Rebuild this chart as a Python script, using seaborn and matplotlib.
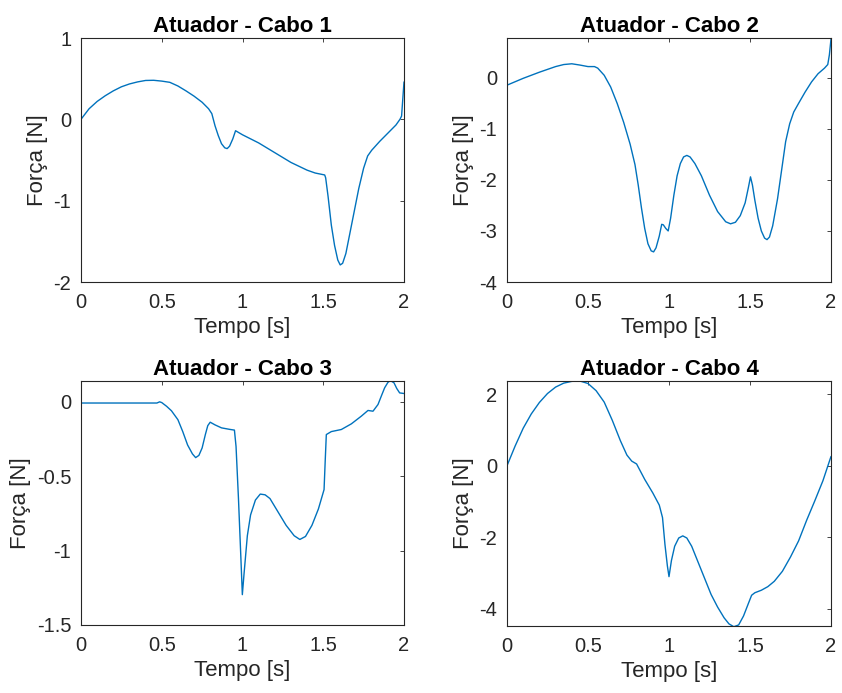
import matplotlib
matplotlib.use("Agg")
import matplotlib.pyplot as plt
import seaborn as sns
import pandas as pd
from matplotlib.ticker import FormatStrFormatter

# Cable actuator forces over time
tempo_1 = [0.0, 0.05, 0.1, 0.15, 0.2, 0.25, 0.3, 0.35, 0.4, 0.45, 0.5, 0.55, 0.6,
           0.65, 0.7, 0.75, 0.79, 0.81, 0.83, 0.85, 0.87, 0.89, 0.905, 0.92, 0.94,
           0.957, 1.0, 1.1, 1.2, 1.3, 1.4, 1.45, 1.509, 1.515, 1.53, 1.55, 1.57,
           1.59, 1.605, 1.62, 1.64, 1.66, 1.69, 1.72, 1.75, 1.775, 1.8, 1.85, 1.9,
           1.95, 1.975, 1.985, 2.0]
forca_1 = [0.0, 0.13, 0.22, 0.29, 0.35, 0.40, 0.435, 0.46, 0.478, 0.48, 0.47, 0.455,
           0.41, 0.35, 0.285, 0.21, 0.13, 0.07, -0.08, -0.2, -0.3, -0.35, -0.36,
           -0.33, -0.24, -0.14, -0.19, -0.29, -0.41, -0.53, -0.625, -0.66, -0.684,
           -0.72, -0.95, -1.3, -1.55, -1.73, -1.79, -1.77, -1.65, -1.45, -1.15,
           -0.85, -0.6, -0.45, -0.38, -0.27, -0.17, -0.07, 0.0, 0.04, 0.46]

tempo_2 = [0.0, 0.1, 0.2, 0.3, 0.35, 0.4, 0.45, 0.5, 0.54, 0.56, 0.6, 0.64, 0.68,
           0.72, 0.76, 0.79, 0.81, 0.83, 0.85, 0.87, 0.89, 0.905, 0.92, 0.94, 0.955,
           0.965, 0.98, 0.995, 1.01, 1.03, 1.05, 1.07, 1.09, 1.11, 1.13, 1.16, 1.2,
           1.25, 1.3, 1.35, 1.38, 1.41, 1.44, 1.47, 1.49, 1.503, 1.515, 1.53, 1.55,
           1.57, 1.59, 1.605, 1.62, 1.64, 1.67, 1.7, 1.72, 1.745, 1.77, 1.8, 1.84,
           1.88, 1.92, 1.96, 1.98, 1.99, 2.0]
forca_2 = [-0.144, -0.01, 0.11, 0.22, 0.26, 0.275, 0.25, 0.22, 0.22, 0.19, 0.05,
           -0.18, -0.5, -0.87, -1.3, -1.7, -2.1, -2.55, -2.95, -3.25, -3.39, -3.41,
           -3.33, -3.1, -2.87, -2.88, -2.95, -3.0, -2.75, -2.3, -1.92, -1.68, -1.55,
           -1.52, -1.55, -1.68, -1.92, -2.3, -2.62, -2.82, -2.86, -2.83, -2.7, -2.45,
           -2.15, -1.94, -2.1, -2.4, -2.75, -3.0, -3.14, -3.17, -3.12, -2.9, -2.37,
           -1.7, -1.25, -0.9, -0.67, -0.5, -0.28, -0.08, 0.08, 0.19, 0.26, 0.45, 0.76]

tempo_3 = [0.0, 0.47, 0.487, 0.5, 0.53, 0.56, 0.6, 0.63, 0.66, 0.69, 0.71, 0.73,
           0.75, 0.77, 0.785, 0.80, 0.83, 0.87, 0.92, 0.95, 0.96, 0.975, 0.99, 0.999,
           1.01, 1.03, 1.05, 1.08, 1.11, 1.14, 1.17, 1.22, 1.27, 1.32, 1.355, 1.39,
           1.43, 1.47, 1.505, 1.512, 1.519, 1.55, 1.612, 1.674, 1.736, 1.777, 1.808,
           1.839, 1.86, 1.88, 1.9, 1.915, 1.938, 1.955, 1.973, 2.0]
forca_3 = [-0.008, -0.008, 0.0, -0.005, -0.03, -0.06, -0.12, -0.2, -0.29, -0.35,
           -0.375, -0.36, -0.31, -0.22, -0.16, -0.137, -0.155, -0.175, -0.185, -0.19,
           -0.3, -0.65, -1.05, -1.296, -1.15, -0.9, -0.76, -0.66, -0.62, -0.625,
           -0.65, -0.74, -0.83, -0.9, -0.925, -0.905, -0.83, -0.72, -0.59, -0.4,
           -0.22, -0.2, -0.186, -0.148, -0.096, -0.058, -0.063, -0.018, 0.04, 0.094,
           0.13, 0.143, 0.128, 0.09, 0.06, 0.056]

tempo_4 = [0.0, 0.05, 0.1, 0.15, 0.2, 0.25, 0.3, 0.35, 0.4, 0.45, 0.5, 0.55, 0.6,
           0.65, 0.7, 0.74, 0.77, 0.8, 0.85, 0.9, 0.94, 0.96, 0.975, 0.99, 1.0,
           1.015, 1.035, 1.06, 1.085, 1.11, 1.14, 1.18, 1.22, 1.26, 1.3, 1.34, 1.37,
           1.4, 1.43, 1.46, 1.49, 1.51, 1.53, 1.57, 1.61, 1.65, 1.7, 1.75, 1.8, 1.85,
           1.9, 1.95, 2.0]
forca_4 = [0.0, 0.55, 1.05, 1.45, 1.77, 2.02, 2.2, 2.31, 2.36, 2.37, 2.3, 2.1, 1.78,
           1.27, 0.7, 0.3, 0.13, 0.05, -0.38, -0.76, -1.1, -1.45, -2.2, -2.8, -3.1,
           -2.65, -2.25, -2.02, -1.96, -2.02, -2.25, -2.7, -3.15, -3.6, -3.95, -4.25,
           -4.42, -4.5, -4.45, -4.2, -3.85, -3.62, -3.55, -3.48, -3.38, -3.23, -2.95,
           -2.55, -2.1, -1.52, -0.98, -0.42, 0.26]

titulos = ["Atuador - Cabo 1", "Atuador - Cabo 2", "Atuador - Cabo 3", "Atuador - Cabo 4"]
x_ticks = [0, 0.5, 1, 1.5, 2]
y_ticks = [[-2, -1, 0, 1], [-4, -3, -2, -1, 0], [-1.5, -1, -0.5, 0], [-4, -2, 0, 2]]
y_limites = [(-2, 1), (-4, 0.78), (-1.5, 0.14), (-4.48, 2.37)]

sns.set_theme(style="white")
plt.rcParams["font.family"] = ["Liberation Sans", "DejaVu Sans"]
plt.rcParams["axes.unicode_minus"] = False

cinza = "#262626"
azul = "#0072BD"

W, H = 842, 693
fig = plt.figure(figsize=(W / 100, H / 100), dpi=100)
fig.patch.set_facecolor("white")

# axes boxes in pixels: (left, top, right, bottom)
caixas = [(81, 38, 404, 282), (507, 38, 831, 282),
          (81, 381, 404, 625), (507, 381, 831, 626)]

series = [(tempo_1, forca_1), (tempo_2, forca_2), (tempo_3, forca_3), (tempo_4, forca_4)]

for i, ((t, f), (l, tp, r, b)) in enumerate(zip(series, caixas)):
    ax = fig.add_axes([l / W, 1 - b / H, (r - l) / W, (b - tp) / H])
    df = pd.DataFrame({"Tempo": t, "Forca": f})
    sns.lineplot(data=df, x="Tempo", y="Forca", ax=ax, color=azul, linewidth=1.0,
                 sort=False, estimator=None)
    ax.set_xlim(0, 2)
    ax.set_ylim(*y_limites[i])
    ax.set_xticks(x_ticks)
    ax.set_yticks(y_ticks[i])
    ax.xaxis.set_major_formatter(FormatStrFormatter("%g"))
    ax.yaxis.set_major_formatter(FormatStrFormatter("%g"))
    ax.tick_params(direction="in", top=True, right=True, length=3, width=0.6,
                   colors=cinza, labelsize=14.5, labelcolor=cinza)
    ax.tick_params(axis="x", pad=8)
    ax.tick_params(axis="y", pad=7)
    for s in ax.spines.values():
        s.set_visible(True)
        s.set_color(cinza)
        s.set_linewidth(0.8)
    ax.set_xlabel("Tempo [s]", fontsize=16, color=cinza, labelpad=3.5)
    ax.set_ylabel("Força [N]", fontsize=16, color=cinza, labelpad=4)
    ax.set_title(titulos[i], fontsize=16, fontweight="bold", color="black", pad=4)
    ax.grid(False)

fig.savefig("out.png", dpi=100, facecolor="white")
